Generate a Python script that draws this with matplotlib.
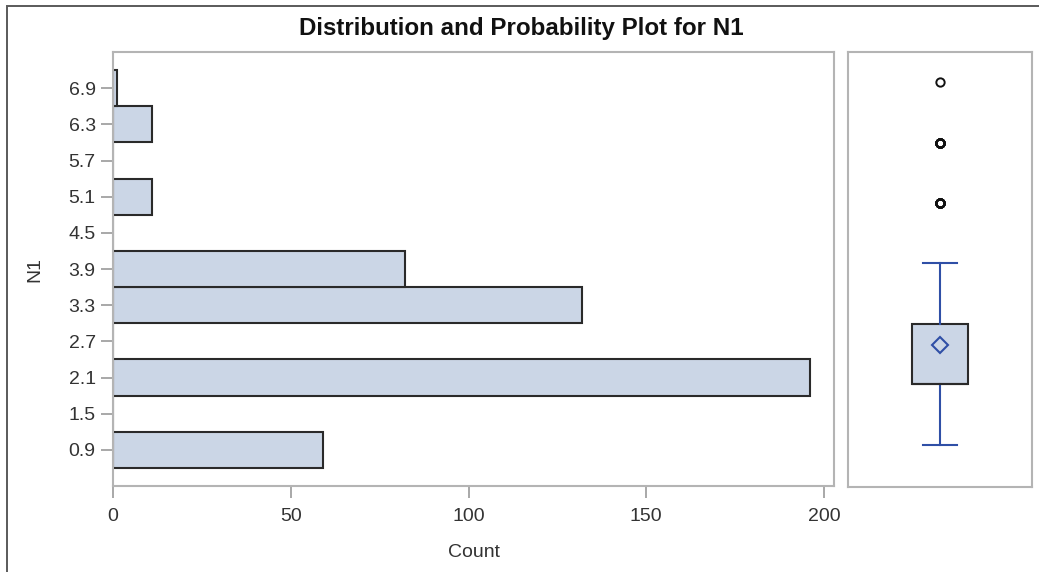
import numpy as np
import matplotlib
matplotlib.use("Agg")
import matplotlib.pyplot as plt
import matplotlib.patches as mpatches

plt.rcParams["font.family"] = ["Liberation Sans", "DejaVu Sans"]

# histogram of N1 (bin midpoints, width 0.6)
BIN_MIDS = [0.9, 1.5, 2.1, 2.7, 3.3, 3.9, 4.5, 5.1, 5.7, 6.3, 6.9]
BIN_COUNTS = [59, 0, 196, 0, 132, 82, 0, 11, 0, 11, 1]
BIN_WIDTH = 0.6

# raw levels of N1 behind the box plot
N1_LEVELS = [1, 2, 3, 4, 5, 6, 7]
LEVEL_COUNTS = [59, 196, 132, 82, 11, 11, 1]

X_TICKS = [0, 50, 100, 150, 200]

FILL = "#cbd6e6"
EDGE = "#2a2a2a"
SPINE = "#b4b4b4"
TICKC = "#9a9a9a"
TEXTC = "#333333"
BLUE = "#2f4fa6"

fig = plt.figure(figsize=(10.39, 5.72), dpi=100)

# outer frame (only top/left visible in the crop)
fig.add_artist(mpatches.Rectangle((7 / 1039, -0.2), 1.5, 1.2 - 6 / 572,
                                  transform=fig.transFigure, fill=False,
                                  edgecolor="#5a5a5a", linewidth=1.4))

ax = fig.add_axes([113 / 1039, 1 - 486 / 572, (834 - 113) / 1039, (486 - 52) / 572])
axb = fig.add_axes([848 / 1039, 1 - 487 / 572, (1032 - 848) / 1039, (487 - 52) / 572],
                   sharey=ax)

ax.barh(BIN_MIDS, BIN_COUNTS, height=BIN_WIDTH, color=FILL,
        edgecolor=EDGE, linewidth=1.5)
ax.set_xlim(0, 202.8)
ax.set_ylim(0.3, 7.5)
ax.set_yticks(BIN_MIDS)
ax.set_yticklabels([f"{v:.1f}" for v in BIN_MIDS])
ax.set_xticks(X_TICKS)
ax.tick_params(axis="both", direction="out", length=8.5, width=1.2, color=TICKC,
               labelsize=14, labelcolor=TEXTC, pad=4)
ax.tick_params(axis="x", pad=7)
ax.set_xlabel("Count", fontsize=14, color=TEXTC, labelpad=14)
ax.set_ylabel("N1", fontsize=14, color=TEXTC, labelpad=18)

data = np.repeat(N1_LEVELS, LEVEL_COUNTS)
axb.boxplot(data, positions=[0.5], widths=0.3, capwidths=0.18, whis=1.5,
            showmeans=True, patch_artist=True,
            boxprops=dict(facecolor=FILL, edgecolor=EDGE, linewidth=1.5),
            medianprops=dict(color=EDGE, linewidth=1.5),
            whiskerprops=dict(color=BLUE, linewidth=1.5),
            capprops=dict(color=BLUE, linewidth=1.5),
            meanprops=dict(marker="D", markerfacecolor="none",
                           markeredgecolor=BLUE, markersize=8, markeredgewidth=1.5),
            flierprops=dict(marker="o", markerfacecolor="none",
                            markeredgecolor="#111111", markersize=6,
                            markeredgewidth=1.4))
axb.set_xlim(0, 1)
axb.set_xticks([])
axb.tick_params(axis="y", left=False, labelleft=False)

for a in (ax, axb):
    for s in a.spines.values():
        s.set_color(SPINE)
        s.set_linewidth(1.5)

fig.text(521 / 1039, 1 - 29 / 572, "Distribution and Probability Plot for N1",
         ha="center", va="center", fontsize=17.4, fontweight="bold", color="#111111")

fig.savefig("out.png", dpi=100)
